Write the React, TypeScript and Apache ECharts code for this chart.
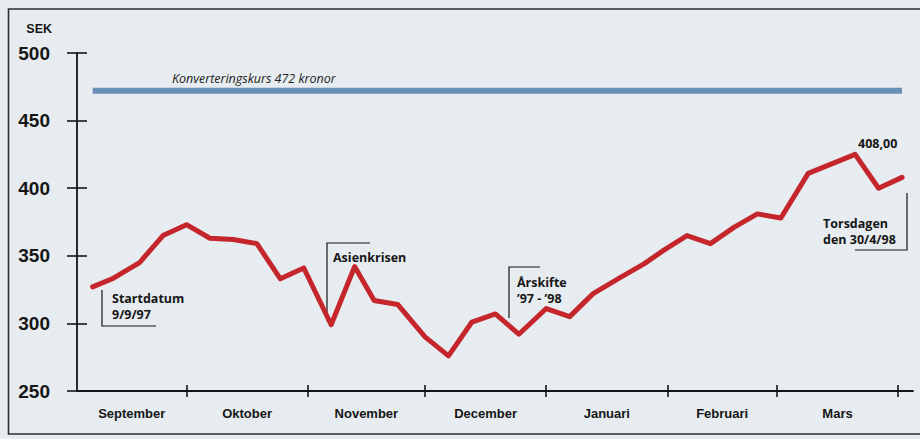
import React, { useEffect, useRef } from "react";
import * as echarts from "echarts";

// Price points (SEK)
const dates = [
  "1997-09-07", "1997-09-12", "1997-09-19", "1997-09-25", "1997-10-01",
  "1997-10-07", "1997-10-13", "1997-10-19", "1997-10-25", "1997-10-31",
  "1997-11-07", "1997-11-13", "1997-11-18", "1997-11-24", "1997-12-01",
  "1997-12-07", "1997-12-13", "1997-12-19", "1997-12-25", "1998-01-01",
  "1998-01-07", "1998-01-13", "1998-01-20", "1998-01-26", "1998-01-31",
  "1998-02-06", "1998-02-12", "1998-02-18", "1998-02-24", "1998-03-02",
  "1998-03-09", "1998-03-15", "1998-03-21", "1998-03-27", "1998-04-02",
];
const values = [
  327, 333, 345, 365, 373,
  363, 362, 359, 333, 341,
  299, 342, 317, 314, 290,
  276, 301, 307, 292, 311,
  305, 322, 334, 344, 354,
  365, 359, 371, 381, 378,
  411, 418, 425, 400, 408,
];
const konverteringskurs = 472;
const monthNames = ["September", "Oktober", "November", "December", "Januari", "Februari", "Mars"];
const monthStarts = ["1997-10-01", "1997-11-01", "1997-12-01", "1998-01-01", "1998-02-01", "1998-03-01", "1998-04-01"];
const axisStart = "1997-09-04";
const axisEnd = "1998-04-04";
const yTicks = [250, 300, 350, 400, 450, 500];

const ORIGIN = Date.UTC(1997, 8, 1);
const dayOf = (s: string) => {
  const [y, m, d] = s.split("-").map(Number);
  return (Date.UTC(y, m - 1, d) - ORIGIN) / 86400000;
};

const HEAVY = "'Liberation Sans', Arial, sans-serif";

export default function App() {
  const ref = useRef<HTMLDivElement>(null);
  useEffect(() => {
    document.body.style.margin = "0";
    const chart = echarts.init(ref.current!, null, { renderer: "svg" });
    const xMin = dayOf(axisStart) - 1;
    const xMax = dayOf(axisEnd) + 0.8;
    const tickVals = monthStarts.map(dayOf);
    const bounds = [xMin, ...tickVals];
    const labelVals = monthNames.map((_, i) => (bounds[i] + bounds[i + 1]) / 2);
    const labelFor = (v: number) => {
      let best = 0;
      labelVals.forEach((lv, i) => {
        if (Math.abs(lv - v) < Math.abs(labelVals[best] - v)) best = i;
      });
      return monthNames[best];
    };
    const lineData = dates.map((d, i) => [dayOf(d), values[i]]);
    const ink = "#161616";
    const annFont = {
      fontFamily: "'Open Sans', sans-serif",
      fontWeight: "bold" as const,
      fontSize: 12.5,
      fill: ink,
      verticalAlign: "middle" as const,
    };
    const bracket = (points: number[][]) => ({
      type: "polyline",
      shape: { points },
      style: { fill: "none", stroke: ink, lineWidth: 1.2 },
    });
    const txt = (x: number, y: number, text: string) => ({ type: "text", x, y, style: { ...annFont, text } });

    const xCommon = {
      type: "value" as const,
      min: xMin,
      max: xMax,
      position: "bottom" as const,
      splitLine: { show: false },
    };
    const yCommon = {
      type: "value" as const,
      min: yTicks[0],
      max: yTicks[yTicks.length - 1],
      interval: 50,
      position: "left" as const,
      splitLine: { show: false },
    };

    chart.setOption({
      animation: false,
      backgroundColor: "#e6ecef",
      grid: { left: 77, right: 7, top: 53, bottom: 48 },
      xAxis: [
        {
          ...xCommon,
          axisLine: { show: true, onZero: false, lineStyle: { color: ink, width: 1.8 } },
          axisTick: { show: false },
          axisLabel: {
            show: true,
            customValues: labelVals,
            formatter: (v: number) => labelFor(v),
            margin: 16,
            fontFamily: HEAVY,
            fontWeight: "bold",
            fontSize: 13,
            color: ink,
          },
        },
        {
          ...xCommon,
          offset: -6,
          axisLine: { show: false, onZero: false },
          axisTick: { show: true, length: 12, customValues: tickVals, lineStyle: { color: ink, width: 1.6 } },
          axisLabel: { show: false },
        },
      ],
      yAxis: [
        {
          ...yCommon,
          axisLine: { show: true, onZero: false, lineStyle: { color: ink, width: 1.8 } },
          axisTick: { show: false },
          axisLabel: {
            margin: 27,
            fontFamily: HEAVY,
            fontWeight: "bold",
            fontSize: 19,
            color: ink,
          },
        },
        {
          ...yCommon,
          offset: -10,
          axisLine: { show: false, onZero: false },
          axisTick: { show: true, length: 20, lineStyle: { color: ink, width: 1.6 } },
          axisLabel: { show: false },
        },
      ],
      series: [
        {
          name: "Konverteringskurs",
          type: "line",
          xAxisIndex: 1,
          yAxisIndex: 1,
          data: [
            [lineData[0][0], konverteringskurs],
            [lineData[lineData.length - 1][0], konverteringskurs],
          ],
          symbol: "none",
          lineStyle: { color: "#6a90b6", width: 6 },
          z: 3,
        },
        {
          name: "Kurs",
          type: "line",
          xAxisIndex: 0,
          yAxisIndex: 0,
          data: lineData,
          symbol: "none",
          lineStyle: { color: "#c4262c", width: 5, join: "round", cap: "round" },
          z: 5,
        },
      ],
      graphic: [
        {
          type: "polyline",
          shape: { points: [[940, 9], [8.5, 9], [8.5, 434], [940, 434]] },
          style: { fill: "none", stroke: "#2e2e2e", lineWidth: 1.6 },
        },
        {
          type: "text",
          x: 52, y: 29,
          style: { text: "SEK", align: "right", verticalAlign: "middle", fontFamily: HEAVY, fontWeight: "bold", fontSize: 12.5, fill: ink },
        },
        {
          type: "text",
          x: 172, y: 78,
          style: { text: "Konverteringskurs 472 kronor", verticalAlign: "middle", fontFamily: "'Open Sans', sans-serif", fontStyle: "italic", fontSize: 12.5, fill: "#222" },
        },
        bracket([[102, 290], [102, 326], [156, 326]]),
        txt(112, 298, "Startdatum"),
        txt(112, 314, "9/9/97"),
        bracket([[327, 321], [327, 243], [370, 243]]),
        txt(333, 257, "Asienkrisen"),
        bracket([[509, 318], [509, 267], [540, 267]]),
        txt(517, 282, "Årskifte"),
        txt(517, 298, "’97 - ’98"),
        bracket([[907, 193], [907, 250], [855, 250]]),
        txt(823, 223, "Torsdagen"),
        txt(823, 239, "den 30/4/98"),
        txt(858, 143, "408,00"),
      ],
    });
    return () => chart.dispose();
  }, []);
  return <div ref={ref} style={{ width: 920, height: 439 }} />;
}
